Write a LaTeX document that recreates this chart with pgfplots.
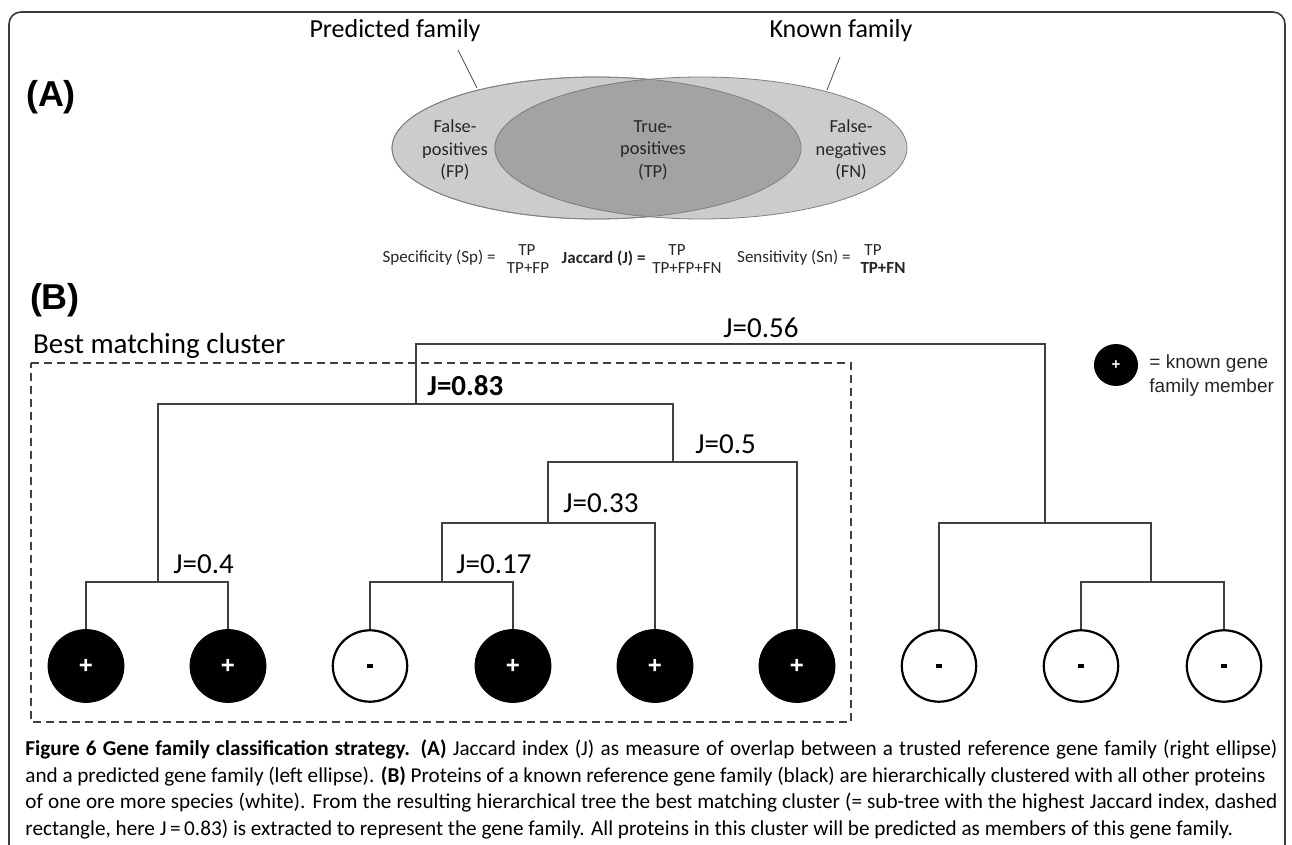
\documentclass[border=0pt]{standalone}
\usepackage{fontspec}
\setmainfont{Carlito}
\newfontfamily\arialfont{Liberation Sans}
\newfontfamily\capfont{Carlito}
\usepackage{pgfplots}
\pgfplotsset{compat=1.18}
\definecolor{vlight}{RGB}{204,204,204}
\definecolor{vdark}{RGB}{163,163,163}
\definecolor{frame}{RGB}{60,60,60}
\begin{document}
\begin{tikzpicture}
\begin{axis}[name=main, width=646pt, height=422.5pt, scale only axis, hide axis,
  xmin=0, xmax=1292, ymin=0, ymax=845, y dir=reverse, clip=false]
% frame
\addplot[draw=frame, line width=0.8pt, rounded corners=6pt] coordinates {(9,845) (9,12) (1285,12) (1285,845)};
% panel letters
\node[font=\arialfont\bfseries\fontsize{18}{20}\selectfont] at (axis cs:51,97) {(A)};
\node[font=\arialfont\bfseries\fontsize{18}{20}\selectfont] at (axis cs:55,300) {(B)};
% Venn diagram (1 px = 0.5 pt)
\draw[fill=vlight, draw=gray, line width=0.4pt] (axis cs:596.5,148) ellipse [x radius=102.25pt, y radius=35.5pt];
\draw[fill=vlight, draw=gray, line width=0.4pt] (axis cs:701,148) ellipse [x radius=103pt, y radius=35.5pt];
\begin{scope}
\clip (axis cs:596.5,148) ellipse [x radius=102.25pt, y radius=35.5pt];
\draw[fill=vdark, draw=gray, line width=0.4pt] (axis cs:701,148) ellipse [x radius=103pt, y radius=35.5pt];
\end{scope}
\draw[gray, line width=0.4pt] (axis cs:596.5,148) ellipse [x radius=102.25pt, y radius=35.5pt];
\addplot[draw=black!70, line width=0.4pt] coordinates {(458,50) (477,88)};
\addplot[draw=black!70, line width=0.4pt] coordinates {(840,57) (827,90)};
\node[font=\fontsize{13}{15}\selectfont] at (axis cs:395,31) {Predicted family};
\node[font=\fontsize{13}{15}\selectfont] at (axis cs:841,31) {Known family};
\begin{scope}[every node/.style={font=\fontsize{9.2}{11.3}\selectfont, align=center, text=black!85}]
\node at (axis cs:455,150) {False-\\positives\\(FP)};
\node at (axis cs:653,150) {True-\\positives\\(TP)};
\node at (axis cs:851,150) {False-\\negatives\\(FN)};
\end{scope}
% formulas
\begin{scope}[every node/.style={font=\fontsize{8.5}{10}\selectfont, inner sep=0pt, text=black!85}]
\node[anchor=east] at (axis cs:496,258) {Specificity (Sp) =};
\node at (axis cs:527,250) {TP};
\node at (axis cs:528,268) {TP+FP};
\node[anchor=east] at (axis cs:646,258) {\bfseries Jaccard (J) =};
\node at (axis cs:677,250) {TP};
\node at (axis cs:687,268) {TP+FP+FN};
\node[anchor=east] at (axis cs:851,258) {Sensitivity (Sn) =};
\node at (axis cs:873,250) {TP};
\node at (axis cs:883,268) {\bfseries TP+FN};
\end{scope}
% dendrogram
\pgfplotsset{tree/.style={draw=black!75, line width=0.6pt}}
\addplot[tree] coordinates {(416,404) (416,344) (1045,344) (1045,523)};
\addplot[tree] coordinates {(158,582) (158,404) (673,404) (673,462)};
\addplot[tree] coordinates {(86,630) (86,582) (228,582) (228,630)};
\addplot[tree] coordinates {(548,523) (548,462) (797,462) (797,630)};
\addplot[tree] coordinates {(442,582) (442,523) (655,523) (655,630)};
\addplot[tree] coordinates {(370,630) (370,582) (513,582) (513,630)};
\addplot[tree] coordinates {(939,630) (939,523) (1151,523) (1151,582)};
\addplot[tree] coordinates {(1081,630) (1081,582) (1224,582) (1224,630)};
% best matching cluster
\addplot[draw=black!75, line width=0.6pt, dash pattern=on 4pt off 2.5pt] coordinates {(31,363) (851,363) (851,722) (31,722) (31,363)};
\node[anchor=west, font=\fontsize{14.5}{16}\selectfont] at (axis cs:26,346) {Best matching cluster};
\begin{scope}[every node/.style={anchor=west, font=\fontsize{14.5}{16}\selectfont, inner sep=0pt}]
\node[anchor=center] at (axis cs:761,328) {J=0.56};
\node at (axis cs:427,386) {\bfseries J=0.83};
\node at (axis cs:695,444) {J=0.5};
\node at (axis cs:563,503) {J=0.33};
\node at (axis cs:173,564) {J=0.4};
\node at (axis cs:456,564) {J=0.17};
\end{scope}
% leaves
\addplot[only marks, mark=*, mark size=19pt, mark options={fill=black, draw=black, yscale=0.96},
  nodes near coords={+}, every node near coord/.append style={anchor=center, text=white, font=\arialfont\bfseries\fontsize{12}{12}\selectfont}]
  coordinates {(86,666) (228,666) (513,666) (655,666) (797,666)};
\addplot[only marks, mark=*, mark size=18.6pt, mark options={fill=white, draw=black, line width=1.1pt, yscale=0.96},
  nodes near coords={\rule{3pt}{2pt}}, every node near coord/.append style={anchor=center, text=black}]
  coordinates {(370,666) (939,666) (1081,666) (1224,666)};
% key
\addplot[only marks, mark=*, mark size=10.8pt, mark options={fill=black, draw=black, yscale=0.95},
  nodes near coords={+}, every node near coord/.append style={anchor=center, text=white, font=\arialfont\bfseries\fontsize{7.5}{7.5}\selectfont}]
  coordinates {(1116,365)};
\begin{scope}[every node/.style={anchor=west, inner sep=0pt, font=\arialfont\fontsize{9.5}{11}\selectfont, text=black!85}]
\node at (axis cs:1149,364) {= known gene};
\node at (axis cs:1149,388) {family member};
\end{scope}
% caption
\begin{scope}[every node/.style={anchor=west, inner sep=0pt, font=\capfont\fontsize{10.6}{12}\selectfont}]
\node at (axis cs:25,749) {\makebox[626pt][s]{\textbf{Figure 6 Gene family classification strategy. (A)} Jaccard index (J) as measure of overlap between a trusted reference gene family (right ellipse)}};
\node at (axis cs:25,776) {\makebox[620pt][s]{and a predicted gene family (left ellipse). \textbf{(B)} Proteins of a known reference gene family (black) are hierarchically clustered with all other proteins}};
\node at (axis cs:25,803) {\makebox[626pt][s]{of one ore more species (white). From the resulting hierarchical tree the best matching cluster (= sub-tree with the highest Jaccard index, dashed}};
\node at (axis cs:25,830) {rectangle, here J\,=\,0.83) is extracted to represent the gene family. All proteins in this cluster will be predicted as members of this gene family.};
\end{scope}
\end{axis}
\pgfresetboundingbox
\path (main.south west) rectangle (main.north east);
\end{tikzpicture}
\end{document}
